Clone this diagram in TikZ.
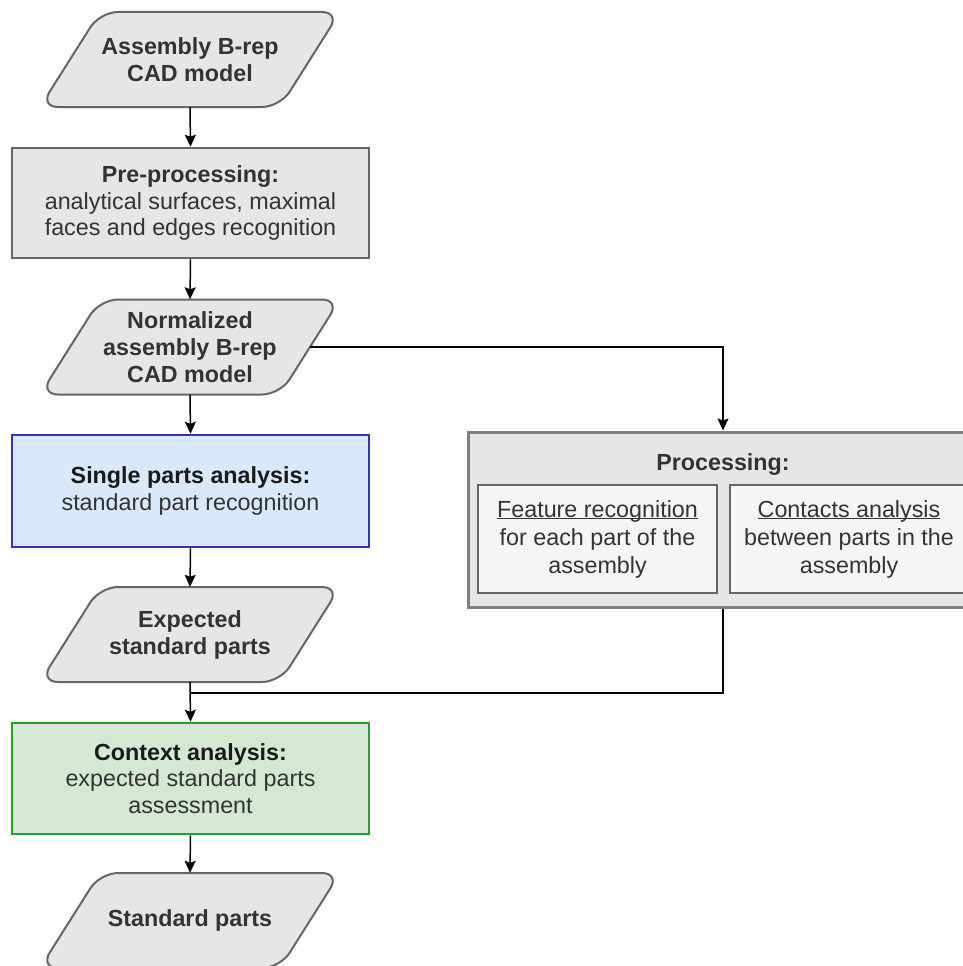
\documentclass[tikz,border=0pt]{standalone}
\usepackage{fontspec}
\setmainfont{Liberation Sans}
\usetikzlibrary{arrows.meta}
\definecolor{txt}{HTML}{333333}
\definecolor{txtdark}{HTML}{1A1A1A}
\definecolor{grayfill}{HTML}{E6E6E6}
\definecolor{lightfill}{HTML}{F5F5F5}
\definecolor{graystroke}{HTML}{666666}
\definecolor{outerstroke}{HTML}{808080}
\definecolor{bluefill}{HTML}{DAE8FC}
\definecolor{bluestroke}{HTML}{3535A8}
\definecolor{greenfill}{HTML}{D5E8D4}
\definecolor{greenstroke}{HTML}{26A026}
\newcommand\ul[1]{\rlap{\underline{\smash{#1}}}\phantom{#1}}
\tikzset{
  lbl/.style={align=center, font=\fontsize{23.3}{26.5}\selectfont, text=txt, inner sep=0pt},
  paratext/.style={lbl, font=\fontsize{23.3}{27}\selectfont\bfseries, minimum width=240pt, minimum height=95pt},
  parashape/.style={draw=graystroke, fill=grayfill, line width=2pt, rounded corners=18pt},
  stepbox/.style={lbl, draw, line width=2.5pt, minimum width=357pt, minimum height=110pt},
  arr/.style={draw=black, line width=1.5pt, -{Stealth[length=12pt,width=11pt,inset=2pt]}},
  conn/.style={draw=black, line width=1.5pt},
}
\newcommand\paral[4]{%
  \draw[parashape] (#2-90,#3-47.5) -- (#2+150,#3-47.5) -- (#2+90,#3+47.5) -- (#2-150,#3+47.5) -- cycle;
  \node[paratext] (#1) at (#2,#3) {#4};
}
\begin{document}
\begin{tikzpicture}[x=1pt,y=-1pt]
\clip (0,0) rectangle (963,966);
\fill[white] (0,0) rectangle (963,966);

% left column
\paral{p1}{190}{59.5}{Assembly B-rep\\CAD model}
\node[stepbox, draw=graystroke, fill=grayfill] (pre) at (190.5,203)
  {\textbf{Pre-processing:}\\analytical surfaces, maximal\\faces and edges recognition};
\paral{p2}{190}{347}{Normalized\\assembly B-rep\\CAD model}
\node[stepbox, draw=bluestroke, fill=bluefill, minimum height=112pt] (single) at (190.5,491)
  {\textcolor{txtdark}{\textbf{Single parts analysis:}}\\standard part recognition};
\paral{p3}{190}{634.5}{Expected\\standard parts}
\node[stepbox, draw=greenstroke, fill=greenfill, minimum height=111pt] (ctx) at (190.5,778.5)
  {\textcolor{txtdark}{\textbf{Context analysis:}}\\expected standard parts\\assessment};
\paral{p4}{190}{920.5}{Standard parts}

% processing group
\node[draw=outerstroke, fill=grayfill, line width=3pt, minimum width=510pt, minimum height=175pt, inner sep=0pt] (proc) at (723,519.5) {};
\node[lbl, font=\fontsize{23.3}{26.5}\selectfont\bfseries] (ptitle) at (723,465) {Processing:};
\node[lbl, draw=graystroke, fill=lightfill, line width=1.5pt, minimum width=239pt, minimum height=108pt, font=\fontsize{23.3}{28}\selectfont] (feat) at (597.5,539)
  {\ul{Feature recognition}\\for each part of the\\assembly};
\node[lbl, draw=graystroke, fill=lightfill, line width=1.5pt, minimum width=238pt, minimum height=108pt, font=\fontsize{23.3}{28}\selectfont] (cont) at (849,539)
  {\ul{Contacts analysis}\\between parts in the\\assembly};

% connectors
\coordinate (join) at (190,693);
\path[arr] (p1.south) -- (pre.north);
\path[arr] (pre.south) -- (p2.north);
\path[arr] (p2.south) -- (single.north);
\path[arr] (single.south) -- (p3.north);
\path[arr] (p2.east) -| (proc.north);
\path[conn] (proc.south) |- (join);
\path[arr] (p3.south) -- (ctx.north);
\path[arr] (ctx.south) -- (p4.north);
\end{tikzpicture}
\end{document}
